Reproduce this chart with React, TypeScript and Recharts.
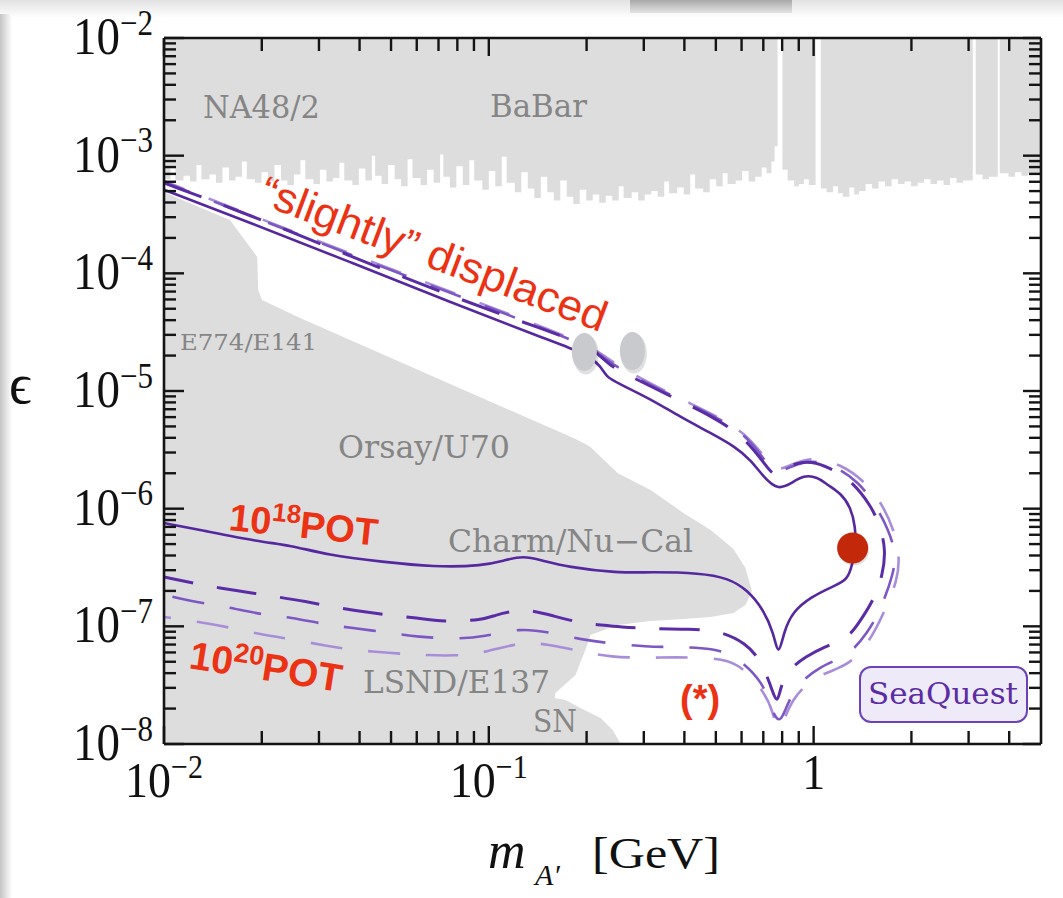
import { ComposedChart, Area, Line, Scatter, XAxis, YAxis } from "recharts";

// all values in log10 units: lm = log10(m_A' / GeV), le = log10(epsilon)
const X_MIN = -2;
const X_MAX = 0.7;
const Y_MIN = -8;
const Y_MAX = -2;

const xMajor = [-2, -1, 0];
const xMajorBase = ["10", "10", "1"];
const xMajorExp = ["−2", "−1", ""];
const yMajor = [-8, -7, -6, -5, -4, -3, -2];
const yMajorExp = ["−8", "−7", "−6", "−5", "−4", "−3", "−2"];
const minorSteps = [2, 3, 4, 5, 6, 7, 8, 9];

// BaBar / NA48/2 lower edge [lm, le]
const babarEdge: [number, number][] = [
  [-2.0, -3.2], [-1.98, -3.1], [-1.965, -3.21], [-1.94, -3.17], [-1.92, -3.22], [-1.9, -3.08],
  [-1.885, -3.2], [-1.86, -3.16], [-1.84, -3.23], [-1.82, -3.1], [-1.8, -3.21], [-1.78, -3.18],
  [-1.76, -3.05], [-1.745, -3.2], [-1.72, -3.23], [-1.7, -3.14], [-1.68, -3.22], [-1.66, -3.08],
  [-1.64, -3.21], [-1.62, -3.25], [-1.6, -3.16], [-1.58, -3.04], [-1.565, -3.2], [-1.54, -3.24],
  [-1.52, -3.12], [-1.5, -3.22], [-1.48, -3.19], [-1.46, -3.06], [-1.445, -3.21], [-1.42, -3.25],
  [-1.4, -3.11], [-1.38, -3.21], [-1.36, -3.0], [-1.35, -3.17], [-1.33, -3.24], [-1.31, -3.08],
  [-1.29, -3.2], [-1.27, -3.26], [-1.25, -3.03], [-1.235, -3.19], [-1.21, -3.25], [-1.19, -3.12],
  [-1.17, -3.23], [-1.15, -2.99], [-1.14, -3.18], [-1.12, -3.27], [-1.1, -3.09], [-1.08, -3.25],
  [-1.06, -3.04], [-1.045, -3.21], [-1.02, -3.29], [-1.0, -3.13], [-0.98, -3.26], [-0.96, -3.01],
  [-0.945, -3.23], [-0.92, -3.31], [-0.9, -3.14], [-0.88, -3.28], [-0.86, -3.36], [-0.84, -3.18],
  [-0.82, -3.31], [-0.8, -3.38], [-0.78, -3.21], [-0.76, -3.35], [-0.74, -3.41], [-0.72, -3.29],
  [-0.7, -3.38], [-0.68, -3.33], [-0.66, -3.4], [-0.64, -3.34], [-0.62, -3.38], [-0.6, -3.26],
  [-0.585, -3.36], [-0.56, -3.31], [-0.54, -3.38], [-0.52, -3.33], [-0.5, -3.3], [-0.48, -3.35],
  [-0.46, -3.22], [-0.445, -3.32], [-0.42, -3.27], [-0.4, -3.33], [-0.38, -3.16], [-0.365, -3.28],
  [-0.34, -3.31], [-0.32, -3.2], [-0.3, -3.26], [-0.28, -3.15], [-0.265, -3.24], [-0.24, -3.21],
  [-0.22, -3.13], [-0.2, -3.22], [-0.18, -3.18], [-0.16, -3.1], [-0.145, -3.15], [-0.13, -3.05],
  [-0.12, -2.92], [-0.111, -2.0], [-0.096, -3.12], [-0.08, -3.21], [-0.06, -3.26], [-0.045, -3.24],
  [-0.03, -3.2], [-0.015, -3.25], [0.006, -2.0], [0.022, -3.28], [0.04, -3.31], [0.06, -3.26],
  [0.075, -3.32], [0.09, -3.35], [0.11, -3.27], [0.125, -3.33], [0.14, -3.3], [0.16, -3.24],
  [0.18, -3.28], [0.2, -3.22], [0.22, -3.26], [0.24, -3.2], [0.26, -3.24], [0.28, -3.22],
  [0.3, -3.26], [0.32, -3.23], [0.34, -3.2], [0.36, -3.24], [0.38, -3.21], [0.4, -3.25],
  [0.42, -3.19], [0.44, -3.23], [0.46, -3.21], [0.49, -2.0], [0.499, -3.16], [0.52, -3.2],
  [0.54, -3.18], [0.567, -2.0], [0.573, -3.15], [0.6, -3.18], [0.62, -3.14], [0.64, -3.17],
  [0.66, -3.15], [0.68, -3.16], [0.7, -3.16],
];

// beam dump region (E774/E141, Orsay/U70, Charm/Nu-Cal, LSND/E137) [lm, lower, upper]
const beamDump: [number, number, number][] = [
  [-2.0, -8, -3.309], [-1.951, -8, -3.368], [-1.797, -8, -3.547], [-1.713, -8, -3.861],
  [-1.71, -8, -4.142], [-1.698, -8, -4.227], [-1.581, -8, -4.379], [-1.273, -8, -4.753],
  [-0.965, -8, -5.127], [-0.817, -8, -5.306], [-0.795, -7.566, -5.331], [-0.733, -7.413, -5.408],
  [-0.703, -7.201, -5.45], [-0.687, -7.073, -5.476], [-0.604, -6.988, -5.697], [-0.502, -6.954, -5.841],
  [-0.401, -6.937, -6.036], [-0.317, -6.92, -6.181], [-0.247, -6.886, -6.342], [-0.21, -6.818, -6.504],
  [-0.191, -6.708, -6.691],
];

// supernova bound [lm, lower, upper]
const supernova: [number, number, number][] = [
  [-0.817, -8, -7.601], [-0.764, -8, -7.626], [-0.718, -8, -7.694], [-0.656, -8, -7.779],
  [-0.619, -8, -7.881], [-0.601, -8, -7.966], [-0.595, -8, -8.0],
];

// SeaQuest reach, 10^18 POT (solid)
const pot18: [number, number][] = [
  [-2.0, -3.29], [-1.735, -3.57], [-1.427, -3.904], [-1.119, -4.244], [-0.841, -4.541],
  [-0.749, -4.635], [-0.687, -4.711], [-0.656, -4.788], [-0.638, -4.881], [-0.604, -4.932],
  [-0.502, -5.068], [-0.41, -5.221], [-0.317, -5.357], [-0.24, -5.476], [-0.194, -5.586],
  [-0.154, -5.731], [-0.111, -5.841], [-0.071, -5.79], [-0.031, -5.714], [0.012, -5.731],
  [0.043, -5.799], [0.083, -5.867], [0.114, -5.986], [0.129, -6.156], [0.129, -6.326],
  [0.12, -6.462], [0.105, -6.606], [0.062, -6.657], [-0.009, -6.751], [-0.065, -6.878],
  [-0.092, -7.048], [-0.108, -7.27], [-0.123, -7.057], [-0.154, -6.861], [-0.203, -6.691],
  [-0.265, -6.589], [-0.348, -6.547], [-0.502, -6.538], [-0.604, -6.547], [-0.758, -6.496],
  [-0.841, -6.436], [-0.894, -6.402], [-0.949, -6.436], [-1.017, -6.487], [-1.171, -6.496],
  [-1.325, -6.453], [-1.498, -6.394], [-1.612, -6.309], [-1.704, -6.283], [-1.889, -6.181],
  [-2.0, -6.122],
];

// SeaQuest reach, 10^20 POT (three dashed variants)
const pot20a: [number, number][] = [
  [-2.0, -3.232], [-1.735, -3.504], [-1.427, -3.853], [-1.119, -4.192], [-0.81, -4.498],
  [-0.733, -4.575], [-0.666, -4.668], [-0.626, -4.796], [-0.533, -4.915], [-0.431, -5.059],
  [-0.308, -5.221], [-0.225, -5.374], [-0.179, -5.518], [-0.148, -5.629], [-0.123, -5.722],
  [-0.093, -5.68], [-0.056, -5.612], [-0.009, -5.595], [0.052, -5.654], [0.114, -5.756],
  [0.176, -5.969], [0.206, -6.155], [0.222, -6.351], [0.213, -6.563], [0.185, -6.776],
  [0.145, -6.946], [0.108, -7.099], [0.031, -7.175], [-0.025, -7.26], [-0.071, -7.354],
  [-0.102, -7.498], [-0.111, -7.68], [-0.133, -7.498], [-0.163, -7.286], [-0.21, -7.141],
  [-0.287, -7.039], [-0.379, -7.022], [-0.502, -7.022], [-0.595, -7.005], [-0.656, -6.988],
  [-0.718, -6.971], [-0.801, -6.912], [-0.872, -6.861], [-0.924, -6.869], [-0.98, -6.903],
  [-1.017, -6.946], [-1.14, -6.963], [-1.22, -6.929], [-1.365, -6.886], [-1.448, -6.852],
  [-1.572, -6.784], [-1.652, -6.75], [-1.787, -6.691], [-1.867, -6.657], [-2.0, -6.58],
];

const pot20b: [number, number][] = [
  [-2.0, -3.224], [-1.427, -3.843], [-0.81, -4.488], [-0.666, -4.658], [-0.619, -4.786],
  [-0.431, -5.048], [-0.308, -5.21], [-0.21, -5.365], [-0.148, -5.6], [-0.117, -5.7],
  [-0.071, -5.645], [-0.009, -5.58], [0.068, -5.64], [0.139, -5.773], [0.191, -5.969],
  [0.231, -6.181], [0.253, -6.377], [0.247, -6.546], [0.206, -6.861], [0.166, -7.056],
  [0.105, -7.26], [0.022, -7.328], [-0.071, -7.541], [-0.102, -7.87], [-0.133, -7.685],
  [-0.154, -7.481], [-0.234, -7.26], [-0.308, -7.184], [-0.431, -7.175], [-0.512, -7.175],
  [-0.635, -7.141], [-0.709, -7.116], [-0.82, -7.048], [-0.903, -7.014], [-1.017, -7.09],
  [-1.097, -7.107], [-1.22, -7.09], [-1.304, -7.056], [-1.418, -7.014], [-1.498, -6.988],
  [-1.612, -6.92], [-1.695, -6.903], [-1.806, -6.835], [-1.889, -6.801], [-2.0, -6.733],
];

const pot20c: [number, number][] = [
  [-2.0, -3.216], [-1.427, -3.834], [-0.81, -4.478], [-0.666, -4.648], [-0.613, -4.776],
  [-0.431, -5.038], [-0.308, -5.2], [-0.21, -5.355], [-0.145, -5.585], [-0.111, -5.685],
  [-0.065, -5.62], [-0.003, -5.56], [0.083, -5.62], [0.16, -5.773], [0.213, -5.969],
  [0.247, -6.181], [0.265, -6.394], [0.259, -6.606], [0.216, -6.886], [0.176, -7.116],
  [0.105, -7.345], [0.022, -7.396], [-0.071, -7.6], [-0.108, -7.96], [-0.123, -7.736],
  [-0.154, -7.541], [-0.234, -7.303], [-0.308, -7.269], [-0.431, -7.261], [-0.512, -7.269],
  [-0.626, -7.261], [-0.709, -7.218], [-0.82, -7.15], [-0.903, -7.133], [-1.017, -7.226],
  [-1.097, -7.252], [-1.22, -7.243], [-1.304, -7.226], [-1.418, -7.201], [-1.498, -7.167],
  [-1.612, -7.107], [-1.695, -7.073], [-1.806, -7.005], [-1.889, -6.963], [-2.0, -6.92],
];

// markers: grey ovals on the displaced branch, red benchmark point
const ovalMarks: [number, number][] = [[-0.706, -4.668], [-0.558, -4.66]];
const redMark: [number, number][] = [[0.12, -6.334]];

const toPts = (arr: [number, number][]) => arr.map(([x, y]) => ({ x, y }));
const babarData = babarEdge.map(([x, lo]) => ({ x, band: [lo, Y_MAX] }));
const beamDumpData = beamDump.map(([x, lo, hi]) => ({ x, band: [lo, hi] }));
const snData = supernova.map(([x, lo, hi]) => ({ x, band: [lo, hi] }));

const xTicks = [...xMajor, ...xMajor.flatMap((d) => minorSteps.map((k) => d + Math.log10(k)))]
  .filter((v) => v < X_MAX - 0.002)
  .sort((a, b) => a - b);
const yTicks = [...yMajor, ...yMajor.slice(0, -1).flatMap((d) => minorSteps.map((k) => d + Math.log10(k)))].sort(
  (a, b) => a - b
);

const AXIS = "#141414";
const SERIF = "'Liberation Serif', 'Times New Roman', serif";
const LABEL_SERIF = "'DejaVu Serif', serif";
const SANS = "'Liberation Sans', Arial, sans-serif";
const GRAY_FILL = "#dddddd";
const GRAY_TEXT = "#858585";
const RED = "#eb3214";

const findMajor = (list: number[], v: number) => list.findIndex((d) => Math.abs(d - v) < 1e-6);

function BottomTick(props: any) {
  const { x, y, payload } = props;
  const i = findMajor(xMajor, payload.value);
  return (
    <g>
      <line x1={x} x2={x} y1={y} y2={y - (i >= 0 ? 18 : 13)} stroke={AXIS} strokeWidth={2.4} />
      {i >= 0 && (
        <text
          transform={`translate(${x} ${y + (xMajorExp[i] ? 53 : 45)}) scale(1 1.12)`}
          textAnchor="middle"
          fontFamily={SERIF}
          fontSize={46}
          fill="#111"
        >
          {xMajorBase[i]}
          {xMajorExp[i] && (
            <tspan dy={-17} fontSize={30}>
              {xMajorExp[i]}
            </tspan>
          )}
        </text>
      )}
    </g>
  );
}

function TopTick(props: any) {
  const { x, y, payload } = props;
  const major = findMajor(xMajor, payload.value) >= 0;
  return <line x1={x} x2={x} y1={y} y2={y + (major ? 18 : 13)} stroke={AXIS} strokeWidth={2.4} />;
}

function LeftTick(props: any) {
  const { x, y, payload } = props;
  const i = findMajor(yMajor, payload.value);
  return (
    <g>
      <line x1={x} x2={x + (i >= 0 ? 20 : 12)} y1={y} y2={y} stroke={AXIS} strokeWidth={2.4} />
      {i >= 0 && (
        <text
          transform={`translate(${x - 11} ${y + 16}) scale(1 1.14)`}
          textAnchor="end"
          fontFamily={SERIF}
          fontSize={47}
          fill="#111"
        >
          10
          <tspan dy={-17} fontSize={31}>
            {yMajorExp[i]}
          </tspan>
        </text>
      )}
    </g>
  );
}

function RightTick(props: any) {
  const { x, y, payload } = props;
  const major = findMajor(yMajor, payload.value) >= 0;
  return <line x1={x} x2={x - (major ? 18 : 12)} y1={y} y2={y} stroke={AXIS} strokeWidth={2.4} />;
}

const Oval = (p: any) => (
  <g>
    <ellipse cx={p.cx + 1.5} cy={p.cy + 2.5} rx={13} ry={20} fill="rgba(0,0,0,0.12)" />
    <ellipse cx={p.cx} cy={p.cy} rx={12.5} ry={19} fill="#c9cacd" />
  </g>
);

const RedDot = (p: any) => (
  <g>
    <circle cx={p.cx + 1} cy={p.cy + 2} r={15.5} fill="rgba(0,0,0,0.12)" />
    <circle cx={p.cx} cy={p.cy} r={15.5} fill="#c4280b" />
  </g>
);

function Annotations() {
  return (
    <svg width={1063} height={898} style={{ position: "absolute", left: 0, top: 0, pointerEvents: "none" }}>
      <g fontFamily={LABEL_SERIF} fontSize={31} fill={GRAY_TEXT}>
        <text x={203} y={118} textLength={117} lengthAdjust="spacingAndGlyphs">NA48/2</text>
        <text x={490} y={117} textLength={97} lengthAdjust="spacingAndGlyphs">BaBar</text>
        <text x={180} y={350} fontSize={23} textLength={137} lengthAdjust="spacingAndGlyphs">E774/E141</text>
        <text x={338} y={458} textLength={172} lengthAdjust="spacingAndGlyphs">Orsay/U70</text>
        <text x={448} y={552} textLength={245} lengthAdjust="spacingAndGlyphs">Charm/Nu−Cal</text>
        <text x={363} y={693} textLength={187} lengthAdjust="spacingAndGlyphs">LSND/E137</text>
        <text x={533} y={732} textLength={44} lengthAdjust="spacingAndGlyphs">SN</text>
      </g>

      <rect x={860} y={667} width={167} height={55} rx={11} fill="#efeaf7" stroke="#6b42b8" strokeWidth={2} />
      <text x={868} y={704} fontFamily={LABEL_SERIF} fontSize={29} fill="#5b2ca3" textLength={150} lengthAdjust="spacingAndGlyphs">
        SeaQuest
      </text>

      <g fontFamily={SANS} fill={RED}>
        <text x={257} y={203} fontSize={43} transform="rotate(20.6 257 203)" textLength={367} lengthAdjust="spacingAndGlyphs">
          “slightly” displaced
        </text>
        <text x={228} y={530} fontSize={38} fontWeight="bold" transform="rotate(6 228 530)">
          10
          <tspan dy={-14} fontSize={26}>18</tspan>
          <tspan dy={14}>POT</tspan>
        </text>
        <text x={188} y={668} fontSize={39} fontWeight="bold" transform="rotate(9 188 668)">
          10
          <tspan dy={-14} fontSize={27}>20</tspan>
          <tspan dy={14}>POT</tspan>
        </text>
        <text x={680} y={712} fontSize={38} fontWeight="bold">(*)</text>
      </g>

      <text x={9} y={403} fontFamily={SERIF} fontSize={56} fill="#111">ϵ</text>
      <g fontFamily={SERIF} fill="#111">
        <text x={488} y={868} fontSize={52} fontStyle="italic">m</text>
        <text x={535} y={885} fontSize={30} fontStyle="italic">A′</text>
        <text x={592} y={868} fontSize={44} textLength={128} lengthAdjust="spacingAndGlyphs">[GeV]</text>
      </g>
    </svg>
  );
}

export default function App() {
  return (
    <div style={{ position: "absolute", left: 0, top: 0, width: 1063, height: 898, background: "#fff", overflow: "hidden" }}>
      <div style={{ position: "absolute", left: 0, top: 0, width: 1063, height: 18, background: "linear-gradient(#e2e2e2, #ffffff)" }} />
      <div style={{ position: "absolute", left: 630, top: 0, width: 162, height: 13, background: "linear-gradient(#a8a8a8, #e4e4e4)" }} />
      <div style={{ position: "absolute", left: 0, top: 14, width: 12, height: 884, background: "linear-gradient(to right, #c4c4c4, #ffffff)" }} />
      <div style={{ position: "absolute", left: 0, top: 0 }}>
        <ComposedChart width={1063} height={898} margin={{ top: 28, right: 12, bottom: 94, left: 64 }}>
          <XAxis
            dataKey="x"
            type="number"
            domain={[X_MIN, X_MAX]}
            allowDataOverflow
            ticks={xTicks}
            interval={0}
            height={60}
            tickSize={0}
            tickMargin={0}
            tickLine={false}
            axisLine={{ stroke: AXIS, strokeWidth: 2.6 }}
            tick={(p: any) => <BottomTick {...p} />}
          />
          <XAxis
            xAxisId="top"
            orientation="top"
            dataKey="x"
            type="number"
            domain={[X_MIN, X_MAX]}
            allowDataOverflow
            ticks={xTicks}
            interval={0}
            height={10}
            tickSize={0}
            tickMargin={0}
            tickLine={false}
            axisLine={{ stroke: AXIS, strokeWidth: 2.6 }}
            tick={(p: any) => <TopTick {...p} />}
          />
          <YAxis
            type="number"
            domain={[Y_MIN, Y_MAX]}
            allowDataOverflow
            ticks={yTicks}
            interval={0}
            width={100}
            tickSize={0}
            tickMargin={0}
            tickLine={false}
            axisLine={{ stroke: AXIS, strokeWidth: 2.6 }}
            tick={(p: any) => <LeftTick {...p} />}
          />
          <YAxis
            yAxisId="right"
            orientation="right"
            type="number"
            domain={[Y_MIN, Y_MAX]}
            allowDataOverflow
            ticks={yTicks}
            interval={0}
            width={10}
            tickSize={0}
            tickMargin={0}
            tickLine={false}
            axisLine={{ stroke: AXIS, strokeWidth: 2.6 }}
            tick={(p: any) => <RightTick {...p} />}
          />

          <Area data={babarData} dataKey="band" type="stepAfter" fill={GRAY_FILL} fillOpacity={1} stroke="none" isAnimationActive={false} />
          <Area data={beamDumpData} dataKey="band" type="linear" fill={GRAY_FILL} fillOpacity={1} stroke="none" isAnimationActive={false} />
          <Area data={snData} dataKey="band" type="linear" fill={GRAY_FILL} fillOpacity={1} stroke="none" isAnimationActive={false} />

          <Line data={toPts(pot20c)} dataKey="y" type="basis" stroke="#a88ed8" strokeWidth={2.6} strokeDasharray="32 26" strokeDashoffset={10} dot={false} isAnimationActive={false} />
          <Line data={toPts(pot20b)} dataKey="y" type="basis" stroke="#7d58c4" strokeWidth={2.6} strokeDasharray="32 26" strokeDashoffset={4} dot={false} isAnimationActive={false} />
          <Line data={toPts(pot20a)} dataKey="y" type="basis" stroke="#5a2ca6" strokeWidth={3} strokeDasharray="40 24" dot={false} isAnimationActive={false} />
          <Line data={toPts(pot18)} dataKey="y" type="basis" stroke="#55289f" strokeWidth={2.6} dot={false} isAnimationActive={false} />

          <Scatter data={toPts(ovalMarks)} dataKey="y" shape={Oval} isAnimationActive={false} />
          <Scatter data={toPts(redMark)} dataKey="y" shape={RedDot} isAnimationActive={false} />
        </ComposedChart>
      </div>
      <Annotations />
    </div>
  );
}
